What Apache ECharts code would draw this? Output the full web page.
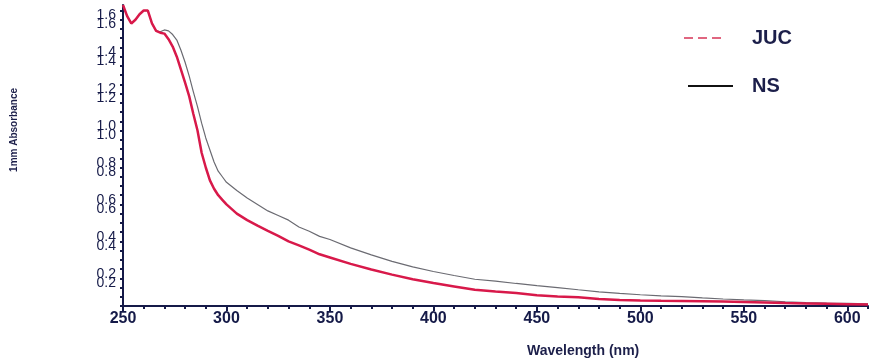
<!DOCTYPE html>
<html>
<head>
<meta charset="utf-8">
<script src="https://cdn.jsdelivr.net/npm/echarts@6/dist/echarts.min.js"></script>
<style>
  html, body { margin: 0; padding: 0; background: #fff; }
  #main { width: 871px; height: 364px; }
</style>
</head>
<body>
<div id="main"></div>
<script>
// wavelength (nm)
var wavelengths = [250, 252, 254, 256, 258, 260, 262, 264, 266, 268, 270, 272, 274, 276, 278, 280, 282, 284, 286, 288,
    290, 292, 294, 296, 298, 300, 305, 310, 315, 320, 325, 330, 335, 340, 345, 350, 360, 370, 380, 390,
    400, 410, 420, 430, 440, 450, 460, 470, 480, 490, 500, 510, 520, 530, 540, 550, 560, 570, 580, 590, 600, 610];
// 1mm absorbance
var jucValues = [1.68, 1.62, 1.58, 1.60, 1.63, 1.65, 1.65, 1.58, 1.54, 1.53, 1.525, 1.495, 1.455, 1.40, 1.33, 1.26, 1.185, 1.09, 1.00, 0.88,
    0.80, 0.73, 0.685, 0.65, 0.625, 0.60, 0.55, 0.515, 0.485, 0.457, 0.43, 0.40, 0.378, 0.355, 0.33, 0.313, 0.278, 0.248, 0.22, 0.195,
    0.174, 0.156, 0.138, 0.128, 0.12, 0.108, 0.102, 0.098, 0.088, 0.083, 0.08, 0.078, 0.077, 0.076, 0.074, 0.072, 0.069, 0.066, 0.064, 0.062, 0.06, 0.058];
var nsValues = [1.68, 1.62, 1.58, 1.60, 1.63, 1.65, 1.65, 1.58, 1.54, 1.535, 1.545, 1.54, 1.52, 1.49, 1.435, 1.37, 1.295, 1.21, 1.13, 1.04,
    0.96, 0.895, 0.83, 0.78, 0.75, 0.72, 0.675, 0.635, 0.60, 0.565, 0.54, 0.515, 0.478, 0.455, 0.427, 0.41, 0.365, 0.327, 0.292, 0.262,
    0.237, 0.215, 0.195, 0.185, 0.172, 0.16, 0.15, 0.138, 0.127, 0.118, 0.111, 0.105, 0.101, 0.094, 0.088, 0.083, 0.079, 0.073, 0.069, 0.066, 0.064, 0.062];
var seriesNames = ["JUC", "NS"];

var axisColor = "#151a48";
var textColor = "#1c1f4a";

function pairs(vals) {
    return wavelengths.map(function (w, i) {
        return [w, vals[i]];
    });
}

var myChart = echarts.init(document.getElementById("main"));
myChart.setOption({
    backgroundColor: "#fff",
    animation: false,
    grid: {
        left: 123,
        right: 3,
        top: 5,
        bottom: 58
    },
    xAxis: [
        {
            type: "value",
            min: 250,
            max: 610,
            interval: 50,
            position: "bottom",
            axisLine: { lineStyle: { color: axisColor, width: 2 } },
            axisTick: { length: 5, lineStyle: { color: axisColor, width: 2 } },
            splitLine: { show: false },
            axisLabel: {
                showMaxLabel: false,
                margin: 5,
                fontFamily: "Liberation Sans",
                fontWeight: "bold",
                fontSize: 16,
                color: axisColor
            }
        },
        {
            // minor ticks every 10 nm
            type: "value",
            min: 250,
            max: 610,
            interval: 10,
            position: "bottom",
            axisLine: { show: false },
            axisTick: { length: 3, lineStyle: { color: axisColor, width: 2 } },
            axisLabel: { show: false },
            splitLine: { show: false }
        }
    ],
    yAxis: {
        type: "value",
        min: 0.05,
        max: 1.68,
        interval: 0.05,
        axisLine: { show: true, lineStyle: { color: axisColor, width: 2 } },
        axisTick: { show: true, length: 3, lineStyle: { color: axisColor, width: 2 } },
        splitLine: { show: false },
        axisLabel: {
            showMaxLabel: false,
            margin: 7,
            fontFamily: "Liberation Sans",
            fontSize: 14,
            lineHeight: 9,
            color: axisColor,
            formatter: function (v) {
                if (Math.abs(v / 0.2 - Math.round(v / 0.2)) > 1e-6) return "";
                var s = v.toFixed(1);
                return s + "\n" + s;
            }
        }
    },
    graphic: [
        {
            type: "text",
            left: 9,
            top: 88,
            rotation: Math.PI / 2,
            style: {
                text: "1mm Absorbance",
                fontFamily: "Liberation Sans",
                fontWeight: "bold",
                fontSize: 10,
                fill: textColor
            }
        },
        {
            type: "text",
            left: 527,
            top: 344,
            style: {
                text: "Wavelength (nm)",
                fontFamily: "Liberation Sans",
                fontWeight: "bold",
                fontSize: 14,
                fill: textColor
            }
        },
        // legend
        {
            type: "line",
            shape: { x1: 684, y1: 38, x2: 726, y2: 38 },
            style: { stroke: "#e06680", lineWidth: 2, lineDash: [9, 5] }
        },
        {
            type: "text",
            left: 752,
            top: 28,
            style: {
                text: seriesNames[0],
                fontFamily: "Liberation Sans",
                fontWeight: "bold",
                fontSize: 20,
                fill: textColor
            }
        },
        {
            type: "line",
            shape: { x1: 688, y1: 86, x2: 733, y2: 86 },
            style: { stroke: "#111", lineWidth: 2 }
        },
        {
            type: "text",
            left: 752,
            top: 76,
            style: {
                text: seriesNames[1],
                fontFamily: "Liberation Sans",
                fontWeight: "bold",
                fontSize: 20,
                fill: textColor
            }
        }
    ],
    series: [
        {
            name: seriesNames[1],
            type: "line",
            symbol: "none",
            lineStyle: { color: "#6b6b72", width: 1.2 },
            data: pairs(nsValues),
            z: 2
        },
        {
            name: seriesNames[0],
            type: "line",
            symbol: "none",
            lineStyle: { color: "#d8194a", width: 2.5 },
            data: pairs(jucValues),
            z: 3
        }
    ]
});
</script>
</body>
</html>
